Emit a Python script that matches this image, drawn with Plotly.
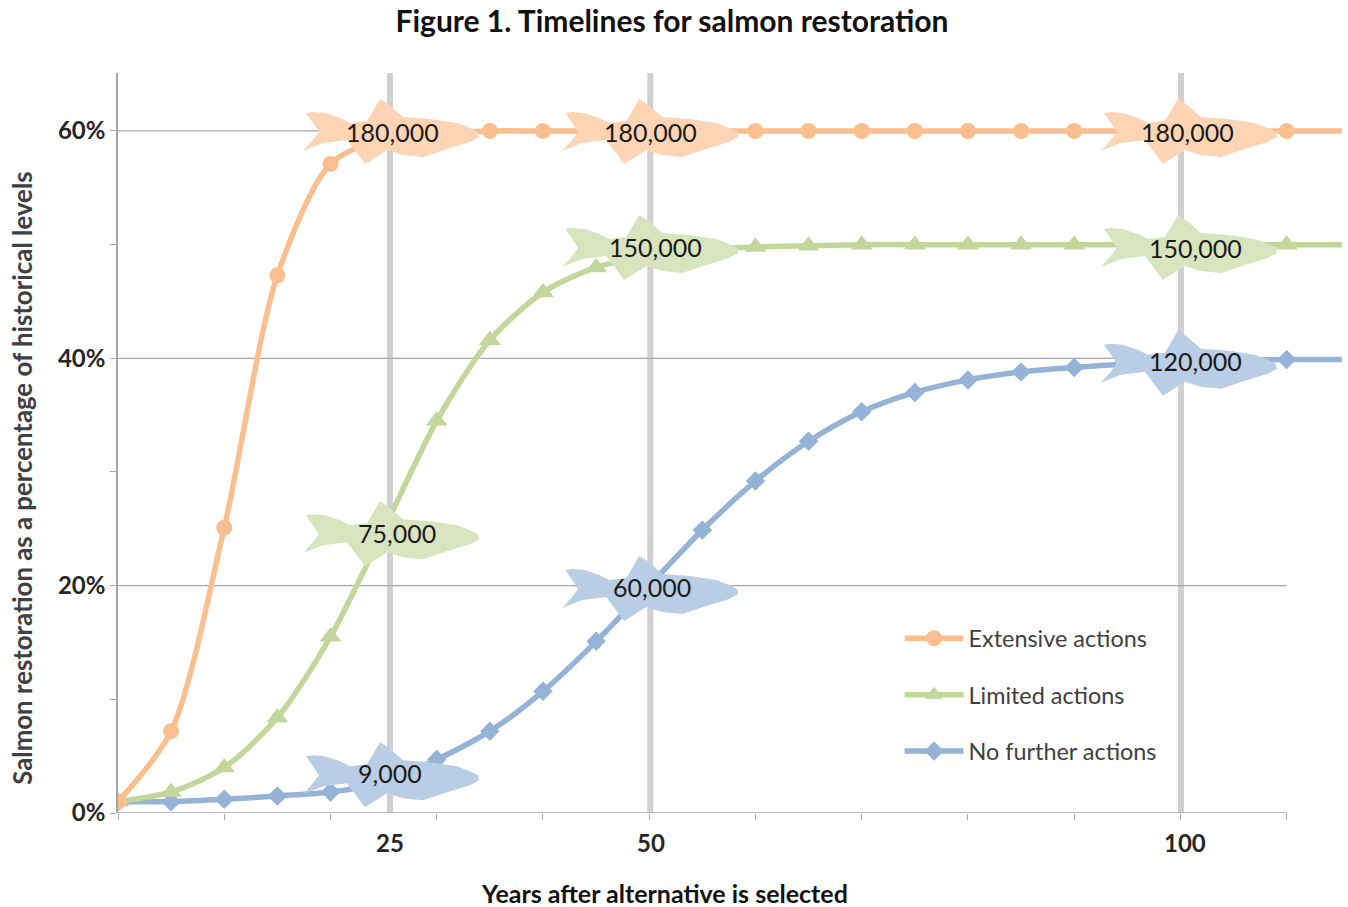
import plotly.graph_objects as go

years = [0, 5, 10, 15, 20, 25, 30, 35, 40, 45, 50, 55, 60, 65, 70, 75, 80, 85, 90, 95, 100, 105, 110]
extensive = [1, 7.2, 25.1, 47.3, 57.1, 59.3, 59.8, 60, 60, 60, 60, 60, 60, 60, 60, 60, 60, 60, 60, 60, 60, 60, 60]
limited = [1, 1.85, 4, 8.4, 15.5, 24.9, 34.5, 41.6, 45.8, 48, 49, 49.6, 49.8, 49.9, 50, 50, 50, 50, 50, 50, 50, 50, 50]
no_further = [1, 1, 1.2, 1.5, 1.85, 2.7, 4.7, 7.2, 10.7, 15.1, 20, 24.9, 29.2, 32.7, 35.3, 37, 38.1, 38.8, 39.2, 39.5, 39.7, 39.8, 39.9]
tail_years = [110, 115.2]

series_names = ["Extensive actions", "Limited actions", "No further actions"]
line_colors = ["#FBBF8F", "#C3D69B", "#95B3D7"]
fish_colors = ["#FDD5B5", "#D7E4BD", "#B9CDE5"]
symbols = ["circle", "triangle-up", "diamond"]
marker_sizes = [16, 19, 15]

milestone_x = [25.6, 50.1, 100.05]
milestone_text_x = [25.6, 50.2, 100.4]
milestone_labels = ["25", "50", "100"]

fish_idx = [0, 0, 0, 1, 1, 1, 2, 2, 2]
fish_x = [25.6, 50, 100.7, 25.6, 50, 100.7, 25.6, 50, 100.7]
fish_y = [60, 60, 60, 24.6, 49.8, 49.8, 3.4, 19.8, 39.6]
fish_text = ["180,000", "180,000", "180,000", "75,000", "150,000", "150,000", "9,000", "60,000", "120,000"]
fish_text_x = [25.8, 50.1, 100.7, 26.3, 50.6, 101.4, 25.6, 50.3, 101.4]
fish_text_y = [59.9, 59.9, 59.9, 24.6, 49.8, 49.7, 3.5, 19.9, 39.8]

# fish outline, pixels around its anchor (x right, y down)
fish_outline = [(-84, -18), (-77, -19), (-65, -18), (-50, -13), (-40, -8), (-23, -10), (-17, -20), (-10, -32), (-2, -27),
                (13, -14), (40, -12), (67, -8), (80, -3), (88, 1), (89, 6), (80, 11), (57, 18), (33, 26), (13, 24), (-3, 19),
                (-25, 33), (-37, 17), (-43, 9), (-67, 12), (-87, 20), (-78, 10), (-71, 1), (-77, -8)]
fish_path = "M " + " L ".join(f"{px} {-py}" for px, py in fish_outline) + " Z"

fig = go.Figure()

all_values = [extensive, limited, no_further]
for i in [2, 1, 0]:
    values = all_values[i]
    fig.add_trace(go.Scatter(x=years, y=values, name=series_names[i], mode="lines+markers",
                             line=dict(color=line_colors[i], width=5.5, shape="spline", smoothing=0.8),
                             marker=dict(symbol=symbols[i], size=marker_sizes[i], color=line_colors[i]),
                             legendgroup=series_names[i], legendrank=i + 1))
    fig.add_trace(go.Scatter(x=tail_years, y=[values[-1], values[-1]], mode="lines", showlegend=False,
                             line=dict(color=line_colors[i], width=5.5), hoverinfo="skip"))

shapes = []
for g in [20, 40, 60]:
    shapes.append(dict(type="line", layer="below", x0=0, x1=110, y0=g, y1=g, line=dict(color="#A6A6A6", width=1.2)))
shapes.append(dict(type="line", layer="below", x0=0, x1=110, y0=0, y1=0, line=dict(color="#A6A6A6", width=1.5)))
for mx in milestone_x:
    shapes.append(dict(type="line", layer="below", x0=mx, x1=mx, yref="paper", y0=0, y1=1,
                       line=dict(color="#D0D0D2", width=6)))
for i, ax, ay in zip(fish_idx, fish_x, fish_y):
    shapes.append(dict(type="path", layer="above", xsizemode="pixel", ysizemode="pixel", xanchor=ax, yanchor=ay,
                       path=fish_path, fillcolor=fish_colors[i], line=dict(width=0)))

annotations = [dict(x=tx, y=ty, text=t, showarrow=False, font=dict(size=25, color="#1a1a1a"))
               for t, tx, ty in zip(fish_text, fish_text_x, fish_text_y)]
annotations += [dict(x=mx, y=0, yref="y", text=f"<b>{t}</b>", showarrow=False, yshift=-29,
                     font=dict(size=24, color="#262626")) for mx, t in zip(milestone_text_x, milestone_labels)]
annotations.append(dict(x=51.4, y=0, yref="y", text="<b>Years after alternative is selected</b>", showarrow=False,
                        yshift=-80, font=dict(size=25, color="#111111")))
annotations.append(dict(x=0, y=29.4, xref="x", xshift=-96, text="<b>Salmon restoration as a percentage of historical levels</b>",
                        textangle=-90, showarrow=False, font=dict(size=25.8, color="#404040")))

fig.update_layout(
    width=1348, height=907, margin=dict(l=118, r=5, t=73, b=94),
    paper_bgcolor="white", plot_bgcolor="white",
    font=dict(family="Lato, 'Open Sans', sans-serif", color="#262626"),
    title=dict(text="<b>Figure 1. Timelines for salmon restoration</b>", x=0.4985, xanchor="center",
               y=0.9768, yanchor="middle", font=dict(size=30, color="#111111")),
    xaxis=dict(range=[0, 115.3], tickmode="array", tickvals=list(range(0, 111, 10)),
               ticktext=[""] * 12, ticks="outside", ticklen=6, tickcolor="#A6A6A6", showgrid=False,
               zeroline=False, showline=False),
    yaxis=dict(range=[0, 65.1], tickmode="array", tickvals=[0, 10, 20, 30, 40, 50, 60],
               ticktext=["<b>0%</b>", "", "<b>20%</b>", "", "<b>40%</b>", "", "<b>60%</b>"],
               ticks="outside", ticklen=6, tickcolor="#A6A6A6", showgrid=False, zeroline=False,
               showline=True, linecolor="#A6A6A6", linewidth=1.5,
               tickfont=dict(size=24, color="#262626")),
    legend=dict(x=0.638, y=0.2655, xanchor="left", yanchor="top", bgcolor="rgba(0,0,0,0)",
                tracegroupgap=23, itemwidth=59, font=dict(size=23.4, color="#404040")),
    shapes=shapes, annotations=annotations,
)

fig.write_html("out.html", config={"displayModeBar": False}, post_script="document.body.style.margin='0';")
